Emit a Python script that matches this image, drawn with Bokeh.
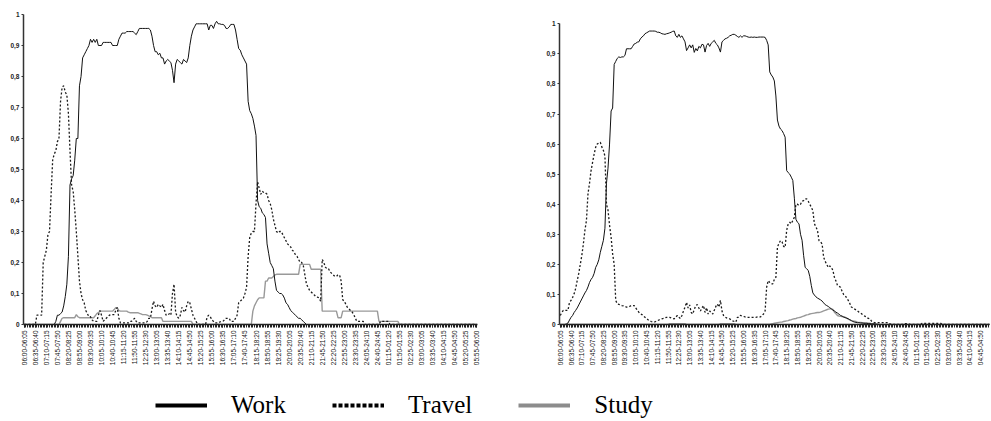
from math import pi
from bokeh.plotting import figure
from bokeh.layouts import column, row
from bokeh.models import FixedTicker, Range1d, Legend, LegendItem
from bokeh.embed import file_html
from bokeh.resources import INLINE

time_labels = ["06:00-06:05", "06:35-06:40", "07:10-07:15", "07:45-07:50", "08:20-08:25", "08:55-09:00",
               "09:30-09:35", "10:05-10:10", "10:40-10:45", "11:15-11:20", "11:50-11:55", "12:25-12:30",
               "13:00-13:05", "13:35-13:40", "14:10-14:15", "14:45-14:50", "15:20-15:25", "15:55-16:00",
               "16:30-16:35", "17:05-17:10", "17:40-17:45", "18:15-18:20", "18:50-18:55", "19:25-19:30",
               "20:00-20:05", "20:35-20:40", "21:10-21:15", "21:45-21:50", "22:20-22:25", "22:55-23:00",
               "23:30-23:35", "24:05-24:10", "24:40-24:45", "01:15-01:20", "01:50-01:55", "02:25-02:30",
               "03:00-03:05", "03:35-03:40", "04:10-04:15", "04:45-04:50", "05:20-05:25", "05:55-06:00"]
y_ticks = [0, 0.1, 0.2, 0.3, 0.4, 0.5, 0.6, 0.7, 0.8, 0.9, 1]
y_tick_labels = ["0", "0,1", "0,2", "0,3", "0,4", "0,5", "0,6", "0,7", "0,8", "0,9", "1"]

# ---- left panel (one value per 5-minute slot, 06:00 -> 06:00) ----
work_left = [
    0, 0, 0, 0, 0, 0, 0, 0, 0, 0, 0, 0,
    0, 0, 0, 0, 0, 0, 0, 0, 0.01, 0.03, 0.03, 0.035,
    0.04, 0.06, 0.09, 0.13, 0.22, 0.45, 0.47, 0.48, 0.53, 0.6, 0.6, 0.77,
    0.8, 0.86, 0.87, 0.88, 0.89, 0.9, 0.92, 0.91, 0.92, 0.91, 0.92, 0.9,
    0.9, 0.9, 0.91, 0.91, 0.91, 0.91, 0.91, 0.91, 0.9, 0.9, 0.9, 0.9,
    0.92, 0.93, 0.94, 0.94, 0.94, 0.945, 0.945, 0.945, 0.945, 0.945, 0.94, 0.935,
    0.945, 0.955, 0.955, 0.955, 0.955, 0.955, 0.955, 0.955, 0.95, 0.93, 0.9, 0.88,
    0.88, 0.87, 0.875, 0.86, 0.86, 0.84, 0.85, 0.855, 0.85, 0.845, 0.82, 0.78,
    0.84, 0.855, 0.85, 0.845, 0.84, 0.855, 0.85, 0.845, 0.86, 0.9, 0.93, 0.95,
    0.96, 0.97, 0.97, 0.97, 0.97, 0.97, 0.97, 0.97, 0.97, 0.95, 0.965, 0.965,
    0.955, 0.97, 0.978, 0.97, 0.97, 0.968, 0.968, 0.965, 0.955, 0.955, 0.96, 0.968,
    0.968, 0.968, 0.95, 0.92, 0.89, 0.885, 0.87, 0.86, 0.85, 0.84, 0.72, 0.69,
    0.68, 0.665, 0.64, 0.61, 0.4, 0.38, 0.375, 0.36, 0.355, 0.345, 0.26, 0.23,
    0.2, 0.19, 0.18, 0.14, 0.11, 0.105, 0.1, 0.1, 0.095, 0.085, 0.07, 0.065,
    0.055, 0.045, 0.04, 0.035, 0.03, 0.025, 0.02, 0.02, 0.015, 0.01, 0.005, 0,
    0, 0, 0, 0, 0, 0, 0, 0, 0, 0, 0, 0,
    0, 0, 0, 0, 0, 0, 0, 0, 0, 0, 0, 0,
    0, 0, 0, 0, 0, 0, 0, 0, 0, 0, 0, 0,
    0, 0, 0, 0, 0, 0, 0, 0, 0, 0, 0, 0,
    0, 0, 0, 0, 0, 0, 0, 0, 0, 0, 0, 0,
    0, 0, 0, 0, 0, 0, 0, 0, 0, 0, 0, 0,
    0, 0, 0, 0, 0, 0, 0, 0, 0, 0, 0, 0,
    0, 0, 0, 0, 0, 0, 0, 0, 0, 0, 0, 0,
    0, 0, 0, 0, 0, 0, 0, 0, 0, 0, 0, 0,
]
travel_left = [
    0, 0, 0, 0, 0, 0, 0, 0, 0.03, 0.03, 0.03, 0.03,
    0.2, 0.22, 0.24, 0.29, 0.3, 0.42, 0.53, 0.55, 0.56, 0.59, 0.6, 0.72,
    0.765, 0.77, 0.75, 0.74, 0.68, 0.56, 0.45, 0.43, 0.37, 0.3, 0.22, 0.14,
    0.1, 0.08, 0.07, 0.045, 0.035, 0.025, 0.025, 0.015, 0.01, 0.01, 0.01, 0.03,
    0.045, 0.03, 0.01, 0.015, 0.02, 0.025, 0.03, 0.032, 0.032, 0.032, 0.045, 0.055,
    0.02, 0.005, 0.005, 0.005, 0.005, 0.005, 0.005, 0.01, 0.01, 0.015, 0.02, 0.01,
    0.005, 0.005, 0.005, 0.005, 0.005, 0.005, 0.01, 0.02, 0.02, 0.05, 0.075, 0.06,
    0.055, 0.065, 0.06, 0.055, 0.065, 0.045, 0.03, 0.03, 0.035, 0.03, 0.1, 0.13,
    0.04, 0.025, 0.02, 0.03, 0.055, 0.045, 0.04, 0.06, 0.075, 0.07, 0.05, 0.03,
    0.02, 0.01, 0, 0, 0, 0, 0, 0, 0.025, 0.03, 0.025, 0.015,
    0.01, 0.005, 0.005, 0.005, 0.008, 0.01, 0.01, 0.015, 0.02, 0.02, 0.02, 0.01,
    0.01, 0.01, 0.02, 0.03, 0.07, 0.075, 0.08, 0.085, 0.1, 0.12, 0.22, 0.28,
    0.295, 0.3, 0.3, 0.39, 0.46, 0.44, 0.42, 0.43, 0.425, 0.425, 0.42, 0.4,
    0.39, 0.37, 0.34, 0.32, 0.3, 0.295, 0.3, 0.3, 0.29, 0.28, 0.27, 0.26,
    0.255, 0.25, 0.24, 0.235, 0.225, 0.22, 0.21, 0.2, 0.2, 0.19, 0.16, 0.13,
    0.12, 0.11, 0.105, 0.1, 0.095, 0.09, 0.088, 0.086, 0.075, 0.21, 0.2, 0.185,
    0.18, 0.18, 0.17, 0.165, 0.16, 0.155, 0.155, 0.16, 0.16, 0.14, 0.08, 0.075,
    0.065, 0.055, 0.05, 0.045, 0.04, 0.032, 0.02, 0.01, 0.01, 0.01, 0.01, 0.01,
    0, 0, 0, 0, 0, 0, 0, 0, 0, 0, 0.01, 0.01,
    0.01, 0.01, 0.01, 0.01, 0, 0, 0, 0, 0, 0, 0, 0,
    0, 0, 0, 0, 0, 0, 0, 0, 0, 0, 0, 0,
    0, 0, 0, 0, 0, 0, 0, 0, 0, 0, 0, 0,
    0, 0, 0, 0, 0, 0, 0, 0, 0, 0, 0, 0,
    0, 0, 0, 0, 0, 0, 0, 0, 0, 0, 0, 0,
]
study_left = [
    0, 0, 0, 0, 0, 0, 0, 0, 0, 0, 0, 0,
    0, 0, 0, 0, 0, 0, 0, 0, 0, 0, 0, 0.01,
    0.02, 0.022, 0.022, 0.022, 0.022, 0.022, 0.022, 0.022, 0.022, 0.032, 0.025, 0.022,
    0.022, 0.022, 0.022, 0.022, 0.022, 0.022, 0.022, 0.022, 0.022, 0.028, 0.035, 0.038,
    0.043, 0.043, 0.043, 0.043, 0.043, 0.043, 0.043, 0.043, 0.043, 0.048, 0.054, 0.054,
    0.045, 0.043, 0.043, 0.043, 0.043, 0.043, 0.04, 0.038, 0.038, 0.038, 0.038, 0.038,
    0.038, 0.036, 0.034, 0.032, 0.032, 0.032, 0.03, 0.028, 0.025, 0.022, 0.022, 0.022,
    0.022, 0.022, 0.022, 0.022, 0.01, 0.01, 0.01, 0.01, 0.01, 0.01, 0.01, 0.01,
    0.01, 0.01, 0.01, 0.01, 0.01, 0.01, 0.01, 0.01, 0.01, 0.01, 0.01, 0,
    0, 0, 0, 0, 0, 0, 0, 0, 0, 0, 0, 0,
    0, 0, 0, 0, 0, 0, 0, 0, 0, 0, 0, 0,
    0, 0, 0, 0, 0, 0, 0, 0, 0, 0, 0, 0,
    0, 0.043, 0.06, 0.07, 0.08, 0.086, 0.086, 0.086, 0.086, 0.14, 0.14, 0.15,
    0.15, 0.15, 0.155, 0.16, 0.162, 0.162, 0.162, 0.162, 0.162, 0.162, 0.162, 0.162,
    0.162, 0.162, 0.162, 0.162, 0.162, 0.162, 0.162, 0.194, 0.194, 0.194, 0.194, 0.194,
    0.194, 0.194, 0.178, 0.178, 0.178, 0.178, 0.178, 0.178, 0.178, 0.043, 0.043, 0.043,
    0.043, 0.043, 0.043, 0.043, 0.043, 0.043, 0.043, 0.022, 0.022, 0.022, 0.043, 0.043,
    0.043, 0.043, 0.043, 0.043, 0.043, 0.043, 0.043, 0.043, 0.043, 0.043, 0.043, 0.043,
    0.043, 0.043, 0.043, 0.043, 0.043, 0.043, 0.043, 0.043, 0.043, 0.01, 0.01, 0.01,
    0.01, 0.01, 0.01, 0.01, 0.01, 0.01, 0.01, 0.01, 0.01, 0.01, 0, 0,
    0, 0, 0, 0, 0, 0, 0, 0, 0, 0, 0, 0,
    0, 0, 0, 0, 0, 0, 0, 0, 0, 0, 0, 0,
    0, 0, 0, 0, 0, 0, 0, 0, 0, 0, 0, 0,
    0, 0, 0, 0, 0, 0, 0, 0, 0, 0, 0, 0,
]

# ---- right panel ----
work_right = [
    0, 0, 0, 0, 0.002, 0.005, 0.015, 0.024, 0.03, 0.04, 0.047, 0.055,
    0.065, 0.075, 0.085, 0.095, 0.105, 0.113, 0.125, 0.14, 0.15, 0.157, 0.17, 0.19,
    0.2, 0.215, 0.24, 0.26, 0.28, 0.32, 0.47, 0.52, 0.6, 0.71, 0.72, 0.865,
    0.875, 0.885, 0.89, 0.888, 0.89, 0.89, 0.895, 0.917, 0.917, 0.917, 0.917, 0.925,
    0.933, 0.935, 0.939, 0.94, 0.95, 0.956, 0.96, 0.967, 0.97, 0.973, 0.976, 0.976,
    0.976, 0.976, 0.975, 0.972, 0.972, 0.97, 0.967, 0.966, 0.965, 0.967, 0.968, 0.97,
    0.972, 0.975, 0.976, 0.96, 0.955, 0.965, 0.955, 0.96, 0.95, 0.94, 0.911, 0.92,
    0.93, 0.92, 0.93, 0.905, 0.918, 0.91, 0.925, 0.92, 0.932, 0.93, 0.906, 0.928,
    0.935, 0.925, 0.935, 0.94, 0.945, 0.935, 0.93, 0.92, 0.906, 0.94, 0.945, 0.95,
    0.952, 0.955, 0.96, 0.962, 0.965, 0.965, 0.962, 0.958, 0.955, 0.96, 0.955, 0.96,
    0.96, 0.958, 0.956, 0.955, 0.956, 0.955, 0.956, 0.955, 0.955, 0.956, 0.956, 0.956,
    0.956, 0.955, 0.945, 0.93, 0.84, 0.83, 0.823, 0.81, 0.76, 0.68, 0.66, 0.65,
    0.645, 0.635, 0.623, 0.512, 0.505, 0.5, 0.49, 0.479, 0.42, 0.35, 0.34, 0.335,
    0.3, 0.28, 0.23, 0.19, 0.185, 0.18, 0.16, 0.13, 0.105, 0.098, 0.092, 0.088,
    0.085, 0.082, 0.078, 0.072, 0.066, 0.063, 0.06, 0.056, 0.052, 0.048, 0.045, 0.041,
    0.038, 0.034, 0.03, 0.028, 0.025, 0.023, 0.021, 0.019, 0.016, 0.013, 0.01, 0.008,
    0.007, 0.006, 0.006, 0.005, 0.005, 0.004, 0.004, 0.004, 0.003, 0.003, 0.002, 0.002,
    0.002, 0.001, 0, 0, 0, 0, 0, 0, 0, 0, 0, 0,
    0, 0, 0, 0, 0, 0, 0, 0, 0, 0, 0, 0,
    0, 0, 0, 0, 0, 0, 0, 0, 0, 0, 0, 0,
    0, 0, 0, 0, 0, 0, 0, 0, 0, 0, 0, 0,
    0, 0, 0, 0, 0, 0, 0, 0, 0, 0, 0, 0,
    0, 0, 0, 0, 0, 0, 0, 0, 0, 0, 0, 0,
    0, 0, 0, 0, 0, 0, 0, 0, 0, 0, 0, 0,
]
travel_right = [
    0.03, 0.04, 0.047, 0.047, 0.047, 0.047, 0.074, 0.08, 0.09, 0.102, 0.12, 0.146,
    0.17, 0.2, 0.23, 0.268, 0.313, 0.346, 0.435, 0.47, 0.512, 0.54, 0.567, 0.59,
    0.6, 0.604, 0.606, 0.59, 0.579, 0.56, 0.4, 0.38, 0.33, 0.29, 0.235, 0.2,
    0.08, 0.069, 0.067, 0.065, 0.063, 0.062, 0.06, 0.058, 0.058, 0.06, 0.063, 0.063,
    0.063, 0.055, 0.048, 0.041, 0.036, 0.033, 0.028, 0.024, 0.02, 0.016, 0.013, 0.01,
    0.008, 0.008, 0.01, 0.012, 0.015, 0.017, 0.019, 0.02, 0.022, 0.024, 0.024, 0.024,
    0.022, 0.02, 0.019, 0.025, 0.03, 0.024, 0.02, 0.03, 0.045, 0.058, 0.074, 0.055,
    0.065, 0.04, 0.035, 0.05, 0.063, 0.066, 0.055, 0.045, 0.055, 0.063, 0.04, 0.056,
    0.035, 0.045, 0.04, 0.035, 0.047, 0.06, 0.068, 0.058, 0.08, 0.045, 0.03, 0.025,
    0.022, 0.02, 0.019, 0.015, 0.012, 0.01, 0.008, 0.024, 0.024, 0.03, 0.028, 0.027,
    0.025, 0.024, 0.024, 0.024, 0.024, 0.024, 0.024, 0.024, 0.025, 0.026, 0.025, 0.03,
    0.035, 0.045, 0.124, 0.146, 0.14, 0.135, 0.135, 0.15, 0.157, 0.257, 0.27, 0.279,
    0.275, 0.26, 0.257, 0.313, 0.335, 0.34, 0.335, 0.346, 0.357, 0.4, 0.4, 0.396,
    0.4, 0.41, 0.412, 0.418, 0.418, 0.41, 0.4, 0.39, 0.379, 0.335, 0.325, 0.313,
    0.279, 0.275, 0.268, 0.224, 0.21, 0.2, 0.19, 0.195, 0.19, 0.18, 0.157, 0.145,
    0.13, 0.127, 0.124, 0.11, 0.1, 0.096, 0.088, 0.08, 0.07, 0.058, 0.055, 0.052,
    0.048, 0.045, 0.041, 0.038, 0.034, 0.03, 0.027, 0.024, 0.02, 0.019, 0.012, 0.008,
    0.006, 0.006, 0.006, 0.006, 0.006, 0.006, 0.006, 0.006, 0.006, 0.006, 0.002, 0,
    0, 0, 0, 0, 0, 0, 0, 0, 0.003, 0.003, 0.003, 0,
    0, 0, 0, 0, 0, 0, 0, 0.004, 0.004, 0.004, 0.004, 0.004,
    0.004, 0.004, 0.004, 0.004, 0.004, 0.004, 0.004, 0.004, 0, 0, 0, 0,
    0, 0, 0, 0, 0, 0, 0, 0, 0, 0, 0, 0,
    0, 0, 0, 0, 0, 0, 0, 0, 0, 0, 0, 0,
    0, 0, 0, 0, 0, 0, 0, 0, 0, 0, 0, 0,
]
study_right = [
    0, 0, 0, 0, 0, 0, 0, 0, 0, 0, 0, 0,
    0, 0, 0, 0, 0, 0, 0, 0, 0, 0, 0, 0,
    0, 0, 0, 0, 0, 0, 0, 0, 0, 0, 0, 0,
    0, 0, 0, 0, 0, 0, 0, 0, 0, 0, 0, 0,
    0, 0, 0, 0, 0, 0, 0, 0, 0, 0, 0, 0,
    0, 0, 0, 0, 0, 0, 0, 0, 0, 0, 0, 0.003,
    0.003, 0.003, 0.003, 0.003, 0.003, 0.003, 0.003, 0.003, 0.003, 0.003, 0, 0,
    0, 0, 0, 0, 0, 0, 0, 0, 0, 0, 0, 0,
    0, 0, 0, 0, 0, 0, 0, 0, 0.003, 0.003, 0.003, 0.003,
    0.003, 0.003, 0.003, 0.003, 0.003, 0.003, 0, 0, 0, 0, 0, 0,
    0, 0, 0, 0, 0, 0, 0, 0, 0, 0, 0, 0,
    0, 0, 0, 0, 0, 0.002, 0.003, 0.004, 0.005, 0.006, 0.007, 0.008,
    0.008, 0.01, 0.011, 0.012, 0.013, 0.015, 0.016, 0.018, 0.019, 0.02, 0.022, 0.023,
    0.024, 0.026, 0.028, 0.03, 0.032, 0.033, 0.035, 0.036, 0.037, 0.038, 0.039, 0.04,
    0.04, 0.041, 0.043, 0.045, 0.047, 0.049, 0.051, 0.052, 0.052, 0.05, 0.041, 0.036,
    0.03, 0.028, 0.027, 0.026, 0.025, 0.024, 0.021, 0.018, 0.015, 0.013, 0.012, 0.011,
    0.01, 0.008, 0.007, 0.007, 0.006, 0.006, 0.005, 0.005, 0.004, 0.004, 0.003, 0.003,
    0.003, 0.002, 0.002, 0, 0, 0, 0, 0, 0, 0, 0, 0,
    0, 0, 0, 0, 0, 0, 0, 0, 0, 0, 0, 0,
    0, 0, 0, 0, 0, 0, 0, 0, 0, 0, 0, 0,
    0, 0, 0, 0, 0, 0, 0, 0, 0, 0, 0, 0,
    0, 0, 0, 0, 0, 0, 0, 0, 0, 0, 0, 0,
    0, 0, 0, 0, 0, 0, 0, 0, 0, 0, 0, 0,
    0, 0, 0, 0, 0, 0, 0, 0, 0, 0, 0, 0,
]

slots = list(range(len(work_left)))
label_positions = list(range(0, len(slots), 7))

WORK_COLOR = "#111111"
TRAVEL_COLOR = "#1a1a1a"
STUDY_COLOR = "#999999"


def make_panel(work, travel, study, frame_w, x_end, y_top, left_b, right_border):
    p = figure(frame_width=frame_w, frame_height=310,
               x_range=Range1d(-0.5, x_end), y_range=Range1d(0, y_top),
               output_backend="svg", toolbar_location=None, tools="",
               min_border_left=left_b, min_border_right=right_border,
               min_border_top=14, min_border_bottom=50)
    p.outline_line_color = None
    p.xgrid.visible = False
    p.ygrid.visible = False
    p.background_fill_color = "white"

    p.line(slots, study, line_color=STUDY_COLOR, line_width=1.4)
    p.line(slots, travel, line_color=TRAVEL_COLOR, line_width=1.3, line_dash="2 2")
    p.line(slots, work, line_color=WORK_COLOR, line_width=1.0)

    xa = p.xaxis[0]
    xa.ticker = FixedTicker(ticks=label_positions, minor_ticks=slots)
    xa.major_label_overrides = {pos: lab for pos, lab in zip(label_positions, time_labels)}
    xa.major_label_orientation = pi / 2
    xa.major_label_text_font = "Liberation Sans"
    xa.major_label_text_font_size = "6.5px"
    xa.major_label_text_color = "#111111"
    xa.major_label_standoff = 3
    xa.axis_line_color = "#222222"
    xa.axis_line_width = 1.5
    xa.major_tick_in = 0
    xa.major_tick_out = 3
    xa.minor_tick_in = 0
    xa.minor_tick_out = 3
    xa.major_tick_line_color = "#222222"
    xa.minor_tick_line_color = "#222222"

    ya = p.yaxis[0]
    ya.bounds = (0, 1)
    ya.ticker = FixedTicker(ticks=y_ticks, minor_ticks=[])
    ya.major_label_overrides = {t: lab for t, lab in zip(y_ticks, y_tick_labels)}
    ya.major_label_text_font = "Liberation Sans"
    ya.major_label_text_font_style = "bold"
    ya.major_label_text_font_size = "6.5px"
    ya.major_label_text_color = "#222222"
    ya.major_label_standoff = 2
    ya.axis_line_color = "#333333"
    ya.axis_line_width = 1.5
    ya.major_tick_in = 0
    ya.major_tick_out = 2
    ya.major_tick_line_color = "#333333"
    return p


left = make_panel(work_left, travel_left, study_left, 454, 287.5, 1.0, 23, 66)
right = make_panel(work_right, travel_right, study_right, 430, 278.7, 1.031, 15, 2)

# legend strip: the series are drawn out of view so that only their legend glyphs show
leg = figure(frame_width=988, frame_height=46, x_range=Range1d(0, 1), y_range=Range1d(5, 6),
             output_backend="svg", toolbar_location=None, tools="",
             min_border_left=0, min_border_right=0, min_border_top=0, min_border_bottom=0)
leg.axis.visible = False
leg.xgrid.visible = False
leg.ygrid.visible = False
leg.outline_line_color = None
r_work = leg.line(slots, work_left, line_color="#000000", line_width=4)
r_travel = leg.line(slots, travel_left, line_color="#000000", line_width=4, line_dash="4 2")
r_study = leg.line(slots, study_left, line_color="#8c8c8c", line_width=4)
legend = Legend(items=[LegendItem(label="Work", renderers=[r_work]),
                       LegendItem(label="Travel", renderers=[r_travel]),
                       LegendItem(label="Study", renderers=[r_study])],
                orientation="horizontal", location=(155, 1),
                label_text_font="Liberation Serif", label_text_font_size="25px",
                label_text_color="#000000", label_height=16,
                glyph_width=52, glyph_height=16, label_standoff=24, spacing=46,
                padding=0, margin=0, border_line_color=None, background_fill_alpha=0)
leg.add_layout(legend)

layout = column(row(left, right), leg)

open("out.html", "w").write(file_html(layout, INLINE))
